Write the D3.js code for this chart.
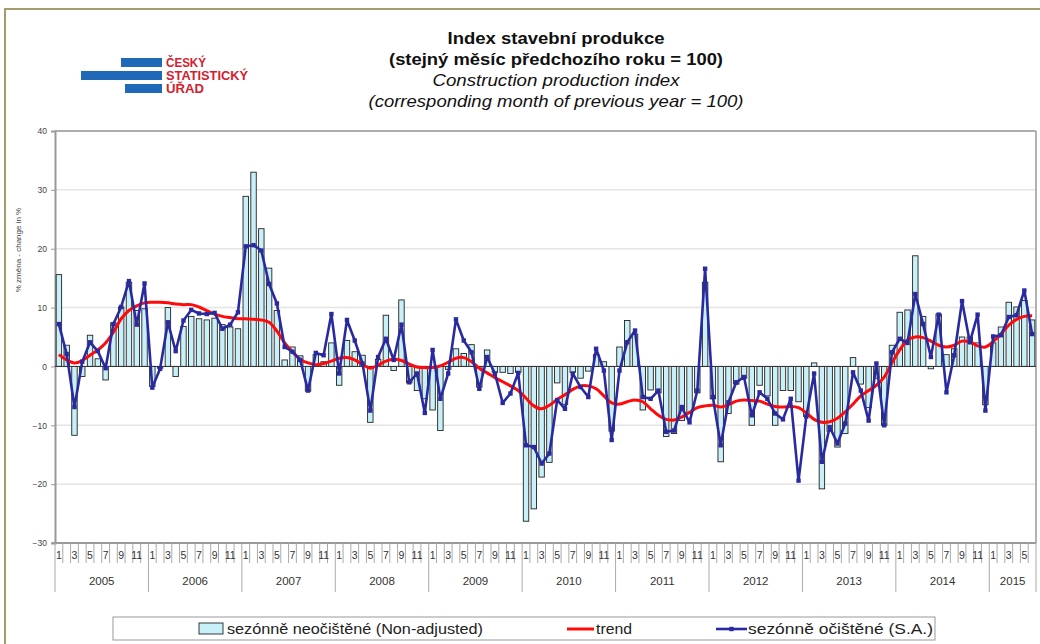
<!DOCTYPE html>
<html><head><meta charset="utf-8">
<script src="https://cdn.jsdelivr.net/npm/d3@7"></script>
<style>body{margin:0;background:#fff;} svg{display:block;font-family:"Liberation Sans",Arial,sans-serif;}</style>
</head><body>
<svg id="c" width="1040" height="644"></svg>
<script>
const years = [2005,2006,2007,2008,2009,2010,2011,2012,2013,2014,2015];
const monthLabels = ["1","","3","","5","","7","","9","","11",""];
const yTicks = [-30,-20,-10,0,10,20,30,40];

const nonAdjusted = [
 15.6, 3.6, -11.7, -1.7, 5.3, 1.3, -2.3, 7.4, 10.1, 14.3, 9.5, 9.8,
 -3.4, -0.3, 10.0, -1.7, 6.8, 8.5, 8.1, 7.9, 8.2, 7.1, 6.7, 6.4,
 28.9, 33.0, 23.4, 16.7, 9.5, 1.1, 3.3, 1.8, -4.2, 2.0, 0.8, 4.0,
 -3.2, 4.4, 2.5, 1.9, -9.5, 1.2, 8.7, -0.7, 11.3, -2.8, -4.1, -5.5,
 -7.4, -10.9, -0.5, 3.0, 2.2, 3.7, -3.5, 2.8, -1.0, -1.0, -1.2, -1.0,
 -26.3, -24.2, -18.8, -16.3, -2.8, -6.5, -1.0, -2.0, -0.8, 2.0, 0.8, -11.0,
 3.3, 7.8, 5.5, -7.4, -4.0, -4.5, -11.9, -11.4, -9.2, -8.0, -4.5, 14.3,
 -5.5, -16.2, -8.0, -3.0, -2.0, -10.0, -3.2, -5.0, -10.0, -4.1, -4.1, -6.0,
 -8.5, 0.6, -20.8, -11.0, -13.7, -11.4, 1.5, -3.0, -7.0, -2.0, -10.0, 3.6,
 9.2, 9.6, 18.8, 8.5, -0.4, 8.9, 2.0, 3.0, 5.0, 5.0, 4.0, -6.5,
 4.0, 6.7, 10.9, 10.1, 11.2, 7.9
];
const trend = [
 2.0, 1.1, 0.6, 1.0, 1.9, 2.8, 4.0, 5.8, 8.1, 9.5, 10.3, 10.8,
 10.9, 10.9, 10.8, 10.6, 10.5, 10.5, 10.1, 9.5, 8.9, 8.5, 8.3, 8.1,
 8.1, 8.0, 7.9, 7.5, 6.0, 4.0, 2.5, 1.2, 0.6, 0.3, 0.5, 0.9,
 1.4, 1.5, 1.1, 0.3, -0.3, 0.2, 0.9, 1.2, 1.0, 0.4, -0.1, -0.2,
 -0.2, 0.1, 0.7, 1.4, 1.5, 0.8, -0.3, -1.1, -1.9, -2.6, -3.3, -4.1,
 -5.4, -6.7, -7.2, -6.6, -5.6, -4.8, -3.9, -3.3, -3.3, -3.8, -5.0, -6.2,
 -6.4, -6.0, -5.7, -6.0, -7.2, -8.3, -9.0, -9.1, -8.6, -7.8, -7.0, -6.7,
 -6.6, -6.9, -6.5, -5.9, -5.7, -5.8, -5.9, -6.4, -6.8, -6.9, -6.8, -7.0,
 -7.9, -9.0, -9.5, -9.4, -8.8, -7.7, -6.4, -5.0, -4.1, -3.2, -1.8, 0.6,
 2.8, 4.5, 5.0, 4.9, 4.3, 3.6, 3.3, 3.6, 4.3, 4.2, 3.5, 3.3,
 4.2, 5.5, 7.0, 8.0, 8.5, 8.6
];
const seasAdjusted = [
 7.2, 2.1, -6.9, 0.8, 4.1, 2.6, -0.3, 7.2, 10.1, 14.5, 7.1, 14.1,
 -3.6, -0.4, 7.5, 2.6, 7.8, 9.6, 9.0, 8.9, 9.1, 6.4, 7.1, 9.2,
 20.4, 20.6, 19.7, 14.0, 10.7, 3.3, 2.5, 1.1, -4.1, 2.3, 1.9, 8.9,
 -1.2, 7.9, 4.4, 0.5, -7.5, 1.6, 4.7, 1.1, 7.1, -2.7, -1.2, -7.9,
 2.8, -5.5, -1.2, 8.0, 4.4, 2.4, -3.8, 1.6, -1.2, -6.2, -4.6, -1.1,
 -13.4, -13.7, -16.5, -14.8, -5.7, -7.2, -1.2, -3.5, -5.2, 3.0, -0.7, -12.5,
 -0.7, 4.1, 6.1, -5.2, -5.5, -4.1, -11.1, -10.9, -6.9, -9.5, -4.1, 16.6,
 -5.2, -13.4, -6.1, -2.7, -1.8, -8.3, -4.4, -5.5, -8.0, -9.0, -5.5, -19.4,
 -8.5, -1.2, -16.2, -10.3, -13.1, -9.7, -1.0, -4.1, -9.2, 0.5, -10.0, 2.4,
 4.7, 4.0, 12.3, 7.2, 1.6, 8.8, -4.4, 1.9, 11.1, 4.1, 8.8, -7.5,
 5.1, 5.3, 8.4, 8.7, 12.9, 5.5
];

const svg = d3.select("#c");
const L = 55, R = 1036, T = 131, B = 543;
const n = nonAdjusted.length;
const idx = d3.range(n);
const x = d3.scaleBand().domain(idx).range([L, R]).paddingInner(0.3).paddingOuter(0.15);
const xb = i => L + i * (R - L) / n; // month boundary
const y = d3.scaleLinear().domain([-30, 40]).range([B, T]);

// outer frame
svg.append("rect").attr("x",5).attr("y",9).attr("width",1045).attr("height",650)
  .attr("fill","none").attr("stroke","#a59c6b").attr("stroke-width",2);

// logo
const logo = svg.append("g");
const blue = "#2068b8";
logo.append("rect").attr("x",121).attr("y",58).attr("width",41).attr("height",9).attr("fill",blue);
logo.append("rect").attr("x",81).attr("y",71).attr("width",81).attr("height",9).attr("fill",blue);
logo.append("rect").attr("x",125).attr("y",84).attr("width",37).attr("height",9).attr("fill",blue);
[["ČESKÝ",67,40],["STATISTICKÝ",80,82],["ÚŘAD",93,38]].forEach(([t,yy,w])=>{
  logo.append("text").attr("x",166).attr("y",yy).text(t)
   .attr("font-size",12).attr("font-weight","bold").attr("fill","#d4202e")
   .attr("textLength",w).attr("lengthAdjust","spacingAndGlyphs");
});

// titles
const titles = [
 ["Index stavební produkce","bold","normal",44,217],
 ["(stejný měsíc předchozího roku = 100)","bold","normal",65,334],
 ["Construction production index","normal","italic",86,247],
 ["(corresponding month of previous year = 100)","normal","italic",107,375]
];
titles.forEach(([t,w,s,yy,len])=>{
  svg.append("text").attr("x",556).attr("y",yy).attr("text-anchor","middle")
   .attr("font-size",16.5).attr("font-weight",w).attr("font-style",s).attr("fill","#111")
   .attr("textLength",len).attr("lengthAdjust","spacingAndGlyphs").text(t);
});

// gridlines
svg.append("g").selectAll("line").data(yTicks.filter(d=>d!==0 && d!==-30)).join("line")
  .attr("x1",L).attr("x2",R).attr("y1",d=>y(d)).attr("y2",d=>y(d))
  .attr("stroke","#e4e4e4").attr("stroke-width",1.5);

// plot border top/right
svg.append("line").attr("x1",L).attr("x2",R).attr("y1",T).attr("y2",T).attr("stroke","#999").attr("stroke-width",1.5);
svg.append("line").attr("x1",R).attr("x2",R).attr("y1",T).attr("y2",B).attr("stroke","#999").attr("stroke-width",1.5);

// y axis
const yAxis = d3.axisLeft(y).tickValues(yTicks).tickSize(4).tickPadding(4);
const ya = svg.append("g").attr("transform",`translate(${L},0)`).call(yAxis);
ya.select(".domain").attr("stroke","#999").attr("stroke-width",2);
ya.selectAll(".tick line").attr("stroke","#999");
ya.selectAll("text").attr("font-size",8.5).attr("fill","#444").attr("font-family","Liberation Sans, Arial");

svg.append("text").attr("transform","translate(21,250) rotate(-90)").attr("text-anchor","middle")
  .attr("font-size",8).attr("fill","#444").text("% změna - change in %");

// bars
svg.append("g").selectAll("rect").data(nonAdjusted).join("rect")
  .attr("x",(d,i)=>x(i)).attr("width",x.bandwidth())
  .attr("y",d=>y(Math.max(0,d))).attr("height",d=>Math.abs(y(d)-y(0)))
  .attr("fill","#c8f0f8").attr("stroke","#222").attr("stroke-width",0.9);

// zero line
svg.append("line").attr("x1",L).attr("x2",R).attr("y1",y(0)).attr("y2",y(0)).attr("stroke","#333").attr("stroke-width",1);

// trend
const cx = i => x(i) + x.bandwidth()/2;
svg.append("path").datum(trend)
  .attr("d", d3.line().x((d,i)=>cx(i)).y(d=>y(d)).curve(d3.curveCatmullRom.alpha(0.5)))
  .attr("fill","none").attr("stroke","#ff0a0a").attr("stroke-width",3);

// seasonally adjusted
svg.append("path").datum(seasAdjusted)
  .attr("d", d3.line().x((d,i)=>cx(i)).y(d=>y(d)))
  .attr("fill","none").attr("stroke","#2a2aa0").attr("stroke-width",2.6).attr("stroke-linejoin","round");
svg.append("g").selectAll("rect").data(seasAdjusted).join("rect")
  .attr("x",(d,i)=>cx(i)-2.2).attr("y",d=>y(d)-2.2).attr("width",4.4).attr("height",4.4)
  .attr("fill","#2a2aa0");

// bottom axis line
svg.append("line").attr("x1",L-3).attr("x2",R).attr("y1",B).attr("y2",B).attr("stroke","#999").attr("stroke-width",2);

// month ticks & labels
const xa = svg.append("g");
xa.selectAll("line.m").data(d3.range(n+1)).join("line").attr("class","m")
  .attr("x1",i=>xb(i)).attr("x2",i=>xb(i)).attr("y1",B).attr("y2",i=> (i%12===0||i===n)? 592 : 563)
  .attr("stroke","#aaa").attr("stroke-width",1);
xa.selectAll("text.m").data(idx).join("text").attr("class","m")
  .attr("x",i=>cx(i)).attr("y",559).attr("text-anchor","middle")
  .attr("font-size",10.5).attr("fill","#333").text(i=>monthLabels[i%12]);
xa.selectAll("text.y").data(years).join("text").attr("class","y")
  .attr("x",(d,k)=>{const s=k*12, e=Math.min(n,(k+1)*12); return (xb(s)+xb(e))/2;})
  .attr("y",585).attr("text-anchor","middle").attr("font-size",11.5).attr("fill","#333").text(d=>d);

// legend
const lg = svg.append("g");
lg.append("rect").attr("x",113).attr("y",617).attr("width",822).attr("height",23)
  .attr("fill","#fff").attr("stroke","#999").attr("stroke-width",1);
lg.append("rect").attr("x",199).attr("y",623).attr("width",24).attr("height",11)
  .attr("fill","#c8f0f8").attr("stroke","#222").attr("stroke-width",0.9);
lg.append("text").attr("x",227).attr("y",634).attr("font-size",15).attr("fill","#222")
  .attr("textLength",256).attr("lengthAdjust","spacingAndGlyphs").text("sezónně neočištěné (Non-adjusted)");
lg.append("line").attr("x1",567).attr("x2",594).attr("y1",629).attr("y2",629).attr("stroke","#ff0a0a").attr("stroke-width",3);
lg.append("text").attr("x",596).attr("y",634).attr("font-size",15).attr("fill","#222")
  .attr("textLength",36).attr("lengthAdjust","spacingAndGlyphs").text("trend");
lg.append("line").attr("x1",716).attr("x2",747).attr("y1",629).attr("y2",629).attr("stroke","#2a2aa0").attr("stroke-width",2.6);
lg.append("rect").attr("x",729.3).attr("y",626.8).attr("width",4.4).attr("height",4.4).attr("fill","#2a2aa0");
lg.append("text").attr("x",748).attr("y",634).attr("font-size",15).attr("fill","#222")
  .attr("textLength",185).attr("lengthAdjust","spacingAndGlyphs").text("sezónně očištěné (S.A.)");
</script>
</body></html>
